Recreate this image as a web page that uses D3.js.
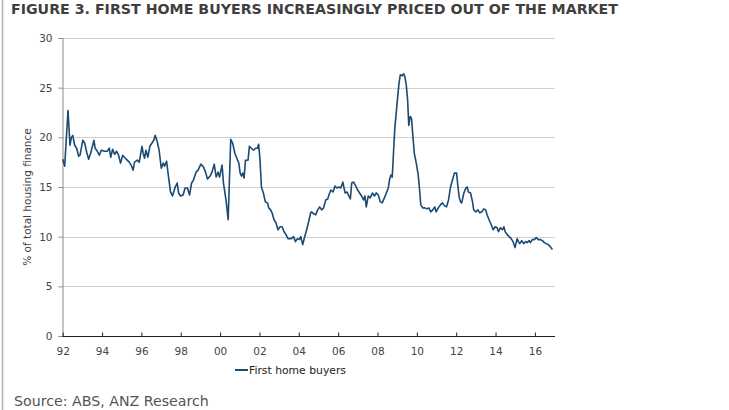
<!DOCTYPE html>
<html>
<head>
<meta charset="utf-8">
<script src="https://cdn.jsdelivr.net/npm/d3@7"></script>
<style>
  body { margin: 0; background: #fff; }
  svg { display: block; font-family: "DejaVu Sans", Verdana, sans-serif; }
</style>
</head>
<body>
<svg id="chart" width="729" height="410"></svg>
<script>
// decimal year of each observation
const dates = [
  1992.00, 1992.10, 1992.27, 1992.37, 1992.44, 1992.51, 1992.61, 1992.71, 1992.81, 1992.88,
  1993.02, 1993.12, 1993.22, 1993.32, 1993.42, 1993.59, 1993.65, 1993.76, 1993.86, 1993.96,
  1994.13, 1994.26, 1994.37, 1994.44, 1994.54, 1994.64, 1994.74, 1994.84, 1994.94, 1995.05,
  1995.18, 1995.28, 1995.38, 1995.48, 1995.58, 1995.65, 1995.79, 1995.89, 1996.03, 1996.09,
  1996.16, 1996.23, 1996.33, 1996.43, 1996.53, 1996.63, 1996.70, 1996.80, 1996.90, 1997.01,
  1997.11, 1997.18, 1997.28, 1997.38, 1997.48, 1997.58, 1997.72, 1997.82, 1997.89, 1997.99,
  1998.12, 1998.22, 1998.34, 1998.45, 1998.55, 1998.65, 1998.78, 1998.88, 1999.02, 1999.16,
  1999.26, 1999.36, 1999.49, 1999.59, 1999.70, 1999.80, 1999.90, 1999.97, 2000.10, 2000.17,
  2000.30, 2000.41, 2000.54, 2000.64, 2000.75, 2000.85, 2000.95, 2001.02, 2001.09, 2001.15,
  2001.22, 2001.29, 2001.42, 2001.49, 2001.59, 2001.70, 2001.80, 2001.90, 2001.96, 2002.03,
  2002.10, 2002.20, 2002.30, 2002.41, 2002.47, 2002.57, 2002.64, 2002.74, 2002.84, 2002.94,
  2003.05, 2003.15, 2003.25, 2003.35, 2003.45, 2003.62, 2003.73, 2003.83, 2003.93, 2004.03,
  2004.10, 2004.20, 2004.30, 2004.40, 2004.50, 2004.60, 2004.65, 2004.76, 2004.86, 2004.96,
  2005.06, 2005.16, 2005.26, 2005.37, 2005.47, 2005.53, 2005.63, 2005.74, 2005.84, 2005.94,
  2006.04, 2006.14, 2006.24, 2006.35, 2006.45, 2006.52, 2006.62, 2006.69, 2006.79, 2006.89,
  2006.99, 2007.09, 2007.19, 2007.29, 2007.36, 2007.43, 2007.53, 2007.63, 2007.74, 2007.84,
  2007.94, 2008.04, 2008.14, 2008.24, 2008.35, 2008.45, 2008.55, 2008.61, 2008.68, 2008.75,
  2008.82, 2008.88, 2008.99, 2009.09, 2009.16, 2009.26, 2009.33, 2009.39, 2009.46, 2009.53,
  2009.59, 2009.66, 2009.73, 2009.80, 2009.87, 2009.97, 2010.07, 2010.14, 2010.20, 2010.30,
  2010.41, 2010.51, 2010.61, 2010.71, 2010.81, 2010.91, 2010.98, 2011.09, 2011.20, 2011.30,
  2011.41, 2011.51, 2011.61, 2011.71, 2011.81, 2011.91, 2012.02, 2012.08, 2012.15, 2012.22,
  2012.28, 2012.39, 2012.49, 2012.56, 2012.62, 2012.73, 2012.83, 2012.89, 2013.00, 2013.10,
  2013.20, 2013.30, 2013.40, 2013.50, 2013.57, 2013.67, 2013.78, 2013.88, 2013.98, 2014.08,
  2014.15, 2014.25, 2014.35, 2014.42, 2014.49, 2014.59, 2014.69, 2014.79, 2014.89, 2014.99,
  2015.10, 2015.16, 2015.23, 2015.33, 2015.43, 2015.53, 2015.60, 2015.71, 2015.77, 2015.87,
  2015.97, 2016.07, 2016.18, 2016.28, 2016.38, 2016.48, 2016.58, 2016.68, 2016.78, 2016.89
];

// first home buyers, % of total housing finance
const firstHomeBuyers = [
  17.8, 17.1, 22.7, 19.2, 20.0, 20.2, 19.2, 18.9, 18.1, 18.2,
  19.7, 19.4, 18.5, 17.8, 18.4, 19.7, 18.9, 18.6, 18.2, 18.7,
  18.6, 18.6, 18.9, 18.0, 18.8, 18.3, 18.6, 18.2, 17.4, 18.2,
  17.9, 17.7, 17.5, 17.2, 16.7, 17.5, 17.7, 17.5, 19.1, 18.4,
  17.9, 18.7, 18.0, 19.1, 19.4, 19.7, 20.2, 19.6, 18.7, 16.9,
  17.4, 17.1, 17.6, 16.0, 14.5, 14.1, 15.0, 15.4, 14.4, 14.1,
  14.2, 14.9, 14.9, 14.2, 15.4, 15.7, 16.5, 16.7, 17.3, 17.0,
  16.5, 15.8, 16.1, 16.5, 17.3, 16.0, 16.5, 16.0, 17.2, 15.4,
  13.7, 11.7, 19.8, 19.4, 18.4, 17.9, 17.4, 16.4, 16.1, 16.4,
  15.9, 17.7, 17.7, 19.1, 18.9, 18.7, 18.9, 18.9, 19.3, 17.7,
  15.0, 14.4, 13.5, 13.4, 12.9, 12.7, 12.4, 11.7, 11.4, 10.7,
  11.0, 11.0, 10.5, 10.2, 9.8, 9.8, 10.0, 9.5, 9.8, 9.7,
  10.0, 9.2, 10.0, 10.7, 11.5, 12.4, 12.5, 12.3, 12.2, 12.7,
  13.0, 12.7, 12.9, 13.7, 13.8, 14.2, 14.7, 14.5, 15.1, 14.9,
  15.0, 14.9, 15.5, 14.4, 14.5, 14.2, 13.8, 15.4, 15.5, 15.1,
  14.7, 14.4, 14.1, 13.7, 14.1, 13.0, 14.1, 13.9, 14.4, 14.1,
  14.4, 14.2, 13.5, 13.4, 13.9, 14.4, 14.9, 15.7, 16.2, 16.0,
  18.7, 20.9, 23.3, 25.4, 26.3, 26.2, 26.4, 26.1, 25.3, 23.8,
  21.2, 22.1, 21.9, 20.1, 18.4, 17.4, 16.2, 14.7, 13.2, 12.9,
  12.9, 12.8, 12.9, 12.5, 12.7, 13.0, 12.5, 12.9, 13.2, 13.4,
  13.1, 13.0, 13.7, 15.0, 15.7, 16.4, 16.4, 15.2, 14.0, 13.5,
  13.4, 14.4, 14.9, 15.0, 14.5, 14.4, 13.5, 12.7, 12.5, 12.7,
  12.4, 12.5, 12.8, 12.7, 12.2, 11.7, 11.2, 10.7, 11.0, 10.9,
  10.5, 10.9, 10.7, 11.0, 10.5, 10.2, 10.0, 9.8, 9.5, 8.9,
  9.8, 9.5, 9.3, 9.6, 9.3, 9.5, 9.4, 9.6, 9.4, 9.7,
  9.7, 9.9, 9.7, 9.7, 9.6, 9.4, 9.3, 9.2, 9.0, 8.7
];

const yTicks = [0, 5, 10, 15, 20, 25, 30];
const xTicks = [1992, 1994, 1996, 1998, 2000, 2002, 2004, 2006, 2008, 2010, 2012, 2014, 2016];

const titleText = "FIGURE 3. FIRST HOME BUYERS INCREASINGLY PRICED OUT OF THE MARKET";
const yLabel = "% of total housing finance";
const seriesName = "First home buyers";
const sourceText = "Source: ABS, ANZ Research";

const lineColor = "#1b4a72";

const svg = d3.select("#chart");

const x = d3.scaleLinear().domain([1992, 2016.92]).range([62.7, 553]);
const y = d3.scaleLinear().domain([0, 30]).range([336, 38]);

const data = dates.map((d, i) => ({ t: d, v: firstHomeBuyers[i] }));

// left frame edge
svg.append("line")
  .attr("x1", 2.5).attr("x2", 2.5)
  .attr("y1", 0).attr("y2", 410)
  .attr("stroke", "#b0b0b0")
  .attr("stroke-width", 1.5);

// title
svg.append("text")
  .attr("x", 11)
  .attr("y", 14)
  .attr("font-size", 14)
  .attr("font-weight", "bold")
  .attr("fill", "#3f3f3f")
  .attr("textLength", 607)
  .attr("lengthAdjust", "spacingAndGlyphs")
  .text(titleText);

// gridlines
svg.append("g")
  .selectAll("line")
  .data(yTicks.filter((d) => d > 0))
  .join("line")
  .attr("x1", 62.7)
  .attr("x2", 555)
  .attr("y1", (d) => Math.round(y(d)) + 0.5)
  .attr("y2", (d) => Math.round(y(d)) + 0.5)
  .attr("stroke", "#a0a0a0")
  .attr("stroke-dasharray", "1,1");

// y axis
const yAxis = svg.append("g")
  .attr("transform", "translate(62.5,0)")
  .call(d3.axisLeft(y).tickValues(yTicks).tickSize(4).tickPadding(6));
yAxis.select(".domain").attr("stroke", "#8a8a8a");
yAxis.selectAll(".tick line").attr("stroke", "#8a8a8a");
yAxis.selectAll(".tick text")
  .attr("font-size", 10.5)
  .attr("fill", "#444")
  .attr("font-family", "DejaVu Sans, sans-serif");

// x axis
const xAxis = svg.append("g")
  .attr("transform", "translate(0,336.5)")
  .call(
    d3.axisBottom(x)
      .tickValues(xTicks)
      .tickSize(-4)
      .tickPadding(8)
      .tickFormat((d) => String(d % 100).padStart(2, "0"))
  );
xAxis.select(".domain")
  .attr("d", "M62.7,0H555")
  .attr("stroke", "#222");
xAxis.selectAll(".tick line").attr("stroke", "#222");
xAxis.selectAll(".tick text")
  .attr("font-size", 10.5)
  .attr("fill", "#444")
  .attr("dy", "1em")
  .attr("font-family", "DejaVu Sans, sans-serif");

// y label
svg.append("text")
  .attr("transform", "translate(31,197) rotate(-90)")
  .attr("text-anchor", "middle")
  .attr("font-size", 10.5)
  .attr("fill", "#444")
  .text(yLabel);

// series line
const line = d3.line()
  .x((d) => x(d.t))
  .y((d) => y(d.v));

svg.append("path")
  .datum(data)
  .attr("d", line)
  .attr("fill", "none")
  .attr("stroke", lineColor)
  .attr("stroke-width", 1.6)
  .attr("stroke-linejoin", "round");

// legend
const legend = svg.append("g").attr("transform", "translate(235,370)");
legend.append("line")
  .attr("x1", 0).attr("x2", 13)
  .attr("stroke", lineColor)
  .attr("stroke-width", 2);
legend.append("text")
  .attr("x", 14)
  .attr("y", 4)
  .attr("font-size", 10.8)
  .attr("fill", "#222")
  .text(seriesName);

// source
svg.append("text")
  .attr("x", 14)
  .attr("y", 406)
  .attr("font-size", 14.2)
  .attr("fill", "#555")
  .text(sourceText);
</script>
</body>
</html>
